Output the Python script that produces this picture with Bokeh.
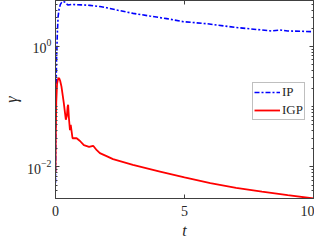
from bokeh.plotting import figure
from bokeh.models import (Range1d, FixedTicker, LinearAxis, LogAxis, Legend, LegendItem,
                          CustomJSTickFormatter)
from bokeh.embed import file_html
from bokeh.resources import INLINE

# ---- data ----
t_ip = [0.0, 0.01, 0.02, 0.04, 0.07, 0.10, 0.14, 0.19, 0.24, 0.30, 0.36, 0.42, 0.49,
        0.62, 0.80, 1.0, 1.33, 1.72, 1.98, 2.37, 3.01, 3.66, 4.31, 4.96, 5.86, 7.0,
        8.0, 8.36, 8.7, 9.0, 9.5, 10.0]
gamma_ip = [0.0055, 0.03, 0.15, 0.6, 1.6, 3.1, 4.2, 5.0, 5.4, 5.6, 5.45, 5.1, 4.88,
            5.0, 4.95, 4.9, 4.82, 4.6, 4.4, 4.03, 3.55, 3.2, 2.9, 2.58, 2.39, 2.07,
            1.88, 1.81, 1.88, 1.81, 1.79, 1.76]

t_igp = [0.0, 0.01, 0.03, 0.06, 0.10, 0.14, 0.18, 0.23, 0.32, 0.40, 0.44, 0.47, 0.49,
         0.52, 0.56, 0.59, 0.62, 0.66, 0.82, 0.95, 1.1, 1.3, 1.46, 1.6, 1.72, 2.0,
         2.23, 3.0, 4.05, 5.0, 6.0, 7.0, 8.0, 9.0, 10.0]
gamma_igp = [0.0083, 0.03, 0.12, 0.24, 0.29, 0.30, 0.27, 0.218, 0.117, 0.061, 0.07,
             0.1, 0.108, 0.065, 0.041, 0.05, 0.04, 0.03, 0.03, 0.027, 0.023, 0.0215,
             0.0225, 0.019, 0.017, 0.015, 0.0135, 0.0108, 0.0084, 0.0067, 0.0054,
             0.0045, 0.0039, 0.0034, 0.0030]

x_ticks = [0, 5, 10]
y_ticks = [0.01, 1]
y_minor = [m * 10.0 ** k for k in (-3, -2, -1, 0) for m in range(1, 10)
           if 0.003 <= m * 10.0 ** k <= 5.8 and m * 10.0 ** k not in (0.01, 1)]

FONT = "Liberation Serif"
AX = "#404040"

p = figure(width=314, height=241, output_backend="svg", toolbar_location=None,
           y_axis_type="log", x_range=Range1d(0, 10), y_range=Range1d(0.003, 5.8),
           min_border_left=48, min_border_right=1, min_border_top=0, min_border_bottom=35,
           background_fill_color="white", border_fill_color="white")
p.grid.visible = False
p.outline_line_color = AX

ip = p.line(t_ip, gamma_ip, line_color="#0000ff", line_width=1.6, line_dash="5 2 2 2")
igp = p.line(t_igp, gamma_igp, line_color="#ff0000", line_width=1.8)

xa = p.xaxis[0]
xa.ticker = FixedTicker(ticks=x_ticks, minor_ticks=[])
ya = p.yaxis[0]
ya.ticker = FixedTicker(ticks=y_ticks, minor_ticks=y_minor)

for ax in (xa, ya):
    ax.axis_line_color = AX
    ax.major_tick_line_color = AX
    ax.minor_tick_line_color = AX
    ax.major_tick_in = 4
    ax.major_tick_out = 0
    ax.minor_tick_in = 2
    ax.minor_tick_out = 0
    ax.major_label_text_font = FONT
    ax.major_label_text_font_size = "14px"
    ax.major_label_text_color = "#262626"
    ax.axis_label_text_font = FONT
    ax.axis_label_text_font_size = "16px"
    ax.axis_label_text_font_style = "italic"
    ax.axis_label_text_color = "#262626"

xa.axis_label = "t"
xa.major_label_standoff = 7
xa.axis_label_standoff = 3
ya.axis_label = "γ"
ya.major_label_standoff = 4
ya.axis_label_standoff = 4

top = LinearAxis(ticker=FixedTicker(ticks=x_ticks, minor_ticks=[]))
right = LogAxis(ticker=FixedTicker(ticks=y_ticks, minor_ticks=y_minor))
for ax in (top, right):
    ax.formatter = CustomJSTickFormatter(code="return ''")
    ax.axis_line_color = AX
    ax.major_tick_line_color = AX
    ax.minor_tick_line_color = AX
    ax.major_tick_in = 4
    ax.major_tick_out = 0
    ax.minor_tick_in = 2
    ax.minor_tick_out = 0
    ax.major_label_standoff = 0
    ax.major_label_text_font_size = "0px"
p.add_layout(top, "above")
p.add_layout(right, "right")

legend = Legend(items=[LegendItem(label="IP", renderers=[ip]),
                       LegendItem(label="IGP", renderers=[igp])],
                location=(197, 78), label_text_font=FONT, label_text_font_size="13px",
                label_text_color="#262626", glyph_width=26, glyph_height=14,
                label_height=14, label_standoff=2, spacing=2, padding=1, margin=0,
                border_line_color="#808080", border_line_width=1,
                background_fill_color="white", background_fill_alpha=1)
p.add_layout(legend, "center")

open("out.html", "w").write(file_html(p, INLINE))
